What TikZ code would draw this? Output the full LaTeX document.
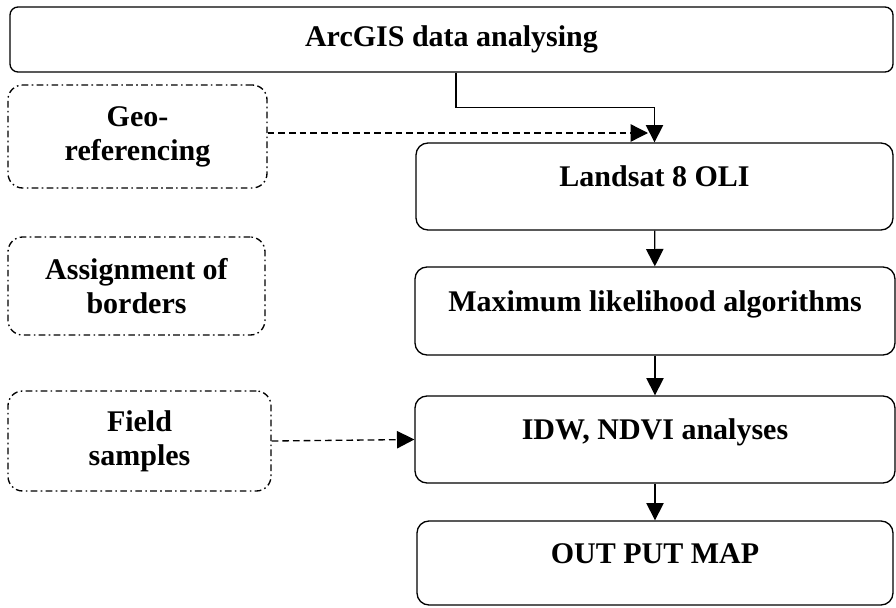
\documentclass[tikz,border=0pt]{standalone}
\usepackage{fontspec}
\setmainfont{Liberation Serif}
\usepackage{tikz}
\usetikzlibrary{arrows.meta}
\usetikzlibrary{positioning}
\tikzset{box/.style = {draw, line width = 1pt, inner sep = 0, align = center}}
\tikzset{sidebox/.style = {box, rounded corners = 11pt, dash pattern = on 5pt off 2.5pt on 1.2pt off 2.5pt}}
\tikzset{stepbox/.style = {box, rounded corners = 9pt, text height = 15pt, text depth = 15pt}}
\tikzset{arr/.style = {line width = 1pt, -{Triangle[length = 13pt, width = 13pt]}}}
\tikzset{darr/.style = {arr, dash pattern = on 5pt off 3pt}}

\begin{document}
\begin{tikzpicture}[x = 0.75pt, y = -0.75pt, font = \fontsize{22.5}{25.5}\selectfont\bfseries]
      \useasboundingbox (0, 0) rectangle (896, 607);
      \node [box, rounded corners = 6pt, minimum width = 662.25pt, minimum height = 48.75pt] (arc) at (451.5, 39.5) {ArcGIS data analysing};
      \node [sidebox, minimum width = 194.25pt, minimum height = 77.25pt] (geo) at (137.5, 136.5) {Geo-\\referencing};
      \node [sidebox, minimum width = 192.75pt, minimum height = 73.5pt] (assign) at (136.5, 286) {Assignment of\\borders};
      \node [sidebox, minimum width = 197.25pt, minimum height = 75pt] (field) at (139.5, 441) {Field\\samples};
      \node [stepbox, minimum width = 357.75pt, minimum height = 65.25pt] (land) at (654.5, 186.5) {Landsat 8 OLI};
      \node [stepbox, minimum width = 360pt, minimum height = 66pt] (maxl) at (655, 311) {Maximum likelihood algorithms};
      \node [stepbox, minimum width = 360pt, minimum height = 65.25pt] (idw) at (655, 439.5) {IDW, NDVI analyses};
      \node [stepbox, minimum width = 357pt, minimum height = 63pt] (outmap) at (655, 563) {OUT PUT MAP};
      \coordinate (geoend) at (648, 133);

      \draw [arr] ([xshift = 3.375pt]arc.south) -- ++(0, 35) -| (land.north);
      \draw [darr] (geo.east |- geoend) -- (geoend);
      \draw [arr] (land) -- (maxl);
      \draw [arr] (maxl) -- (idw);
      \draw [arr] (idw) -- (outmap);
      \draw [darr] (field.east) -- (idw.west);

    \end{tikzpicture}
\end{document}
